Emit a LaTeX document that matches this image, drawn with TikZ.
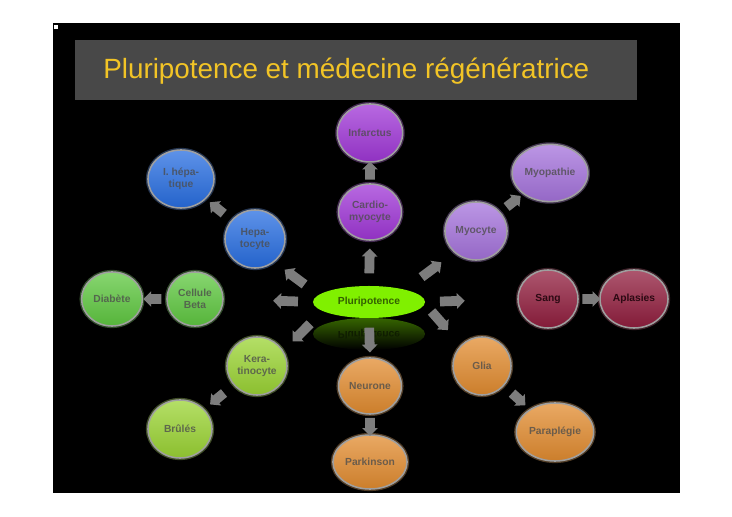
\documentclass[tikz,border=0pt]{standalone}
\usepackage{fontspec}
\setmainfont{Liberation Sans}
\usepackage{tikz}
\usetikzlibrary{shapes.geometric,shapes.arrows,positioning}
\definecolor{titlegray}{RGB}{72,72,72}
\definecolor{titleyellow}{RGB}{242,196,38}
\definecolor{hepblue}{RGB}{40,110,225}
\definecolor{cardpurple}{RGB}{160,55,215}
\definecolor{myolav}{RGB}{165,115,220}
\definecolor{sangred}{RGB}{145,30,62}
\definecolor{diabgreen}{RGB}{95,200,65}
\definecolor{keragreen}{RGB}{155,212,52}
\definecolor{neurorange}{RGB}{226,140,48}
\definecolor{plurigreen}{RGB}{128,240,0}
\definecolor{arrgray}{RGB}{125,125,125}

\begin{document}
\begin{tikzpicture}[
  x=0.025cm, y=-0.025cm,
  font=\fontsize{7.3}{8.4}\selectfont\bfseries,
  every node/.append style={align=center},
  disc/.style={ellipse, minimum width=1.5cm, minimum height=1.45cm, inner sep=1pt,
    draw=gray!75, line width=1.1pt,
    top color=#1!75!white, middle color=#1, bottom color=#1!90!black,
    text=#1!25!gray!70!black,
    preaction={draw=#1!70!white, line width=3pt, opacity=0.35}},
  blk/.style={single arrow, fill=arrgray, draw=none, inner xsep=0pt, inner ysep=0.115cm,
    minimum height=0.62cm, single arrow head extend=0.075cm,
    sloped, allow upside down},
  blks/.style={blk, minimum height=0.45cm}
]
\useasboundingbox (0,0) rectangle (732,517);
\fill[white] (0,0) rectangle (732,517);
\fill[black] (53,23) rectangle (680,493);
\fill[white] (54,25) rectangle (58,29);
\node[fill=titlegray, minimum width=14.05cm, minimum height=1.5cm, inner sep=0pt] (title) at (356,70) {};
\node[text=titleyellow, font=\fontsize{19.8}{24}\selectfont, anchor=west, inner sep=0pt] (titletext) at (103,71) {Pluripotence et médecine régénératrice};

% centre and reflection
\node[ellipse, minimum width=2.8cm, minimum height=0.8cm, outer sep=0pt,
  top color=plurigreen!42!black, bottom color=black, draw=none] (refl) at (369,334) {};
\node[yscale=-1, transform shape, text=plurigreen!12!black] (refltext) at (369,334) {Pluripotence};
\node[ellipse, minimum width=2.8cm, minimum height=0.8cm, outer sep=0pt,
  fill=plurigreen, text=plurigreen!40!black] (pluri) at (369,302) {Pluripotence};

% cells
\node[disc=cardpurple] (inf)  at (370,133) {Infarctus};
\node[disc=cardpurple, minimum height=1.4cm] (card) at (370,212) {Cardio-\\myocyte};
\node[disc=hepblue, minimum width=1.65cm] (hep) at (181,179) {I. hépa-\\tique};
\node[disc=hepblue] (hepa) at (255,239) {Hepa-\\tocyte};
\node[disc=myolav] (myo)  at (476,231) {Myocyte};
\node[disc=myolav, minimum width=1.6cm, minimum height=1.43cm] (myop) at (550,173) {Myopathie};
\node[disc=sangred, text=sangred!30!black] (sang) at (548,299) {Sang};
\node[disc=sangred, text=sangred!30!black, minimum width=1.7cm] (apl) at (634,299) {Aplasies};
\node[disc=diabgreen, minimum width=1.52cm, minimum height=1.35cm] (diab) at (112,299) {Diabète};
\node[disc=diabgreen, minimum width=1.4cm, minimum height=1.35cm] (cell) at (195,299) {Cellule\\Beta};
\node[disc=keragreen] (kera) at (257,366) {Kera-\\tinocyte};
\node[disc=keragreen, minimum width=1.6cm] (brul) at (180,429) {Brûlés};
\node[disc=neurorange, minimum height=1.4cm] (neur) at (370,386) {Neurone};
\node[disc=neurorange, minimum height=1.35cm] (park) at (370,462) {Parkinson};
\node[disc=neurorange, minimum width=1.45cm] (glia) at (482,366) {Glia};
\node[disc=neurorange, minimum width=1.6cm] (para) at (555,432) {Paraplégie};

% arrows from the centre
\path (pluri.90) -- node[blk]{} (card.-90);
\path (pluri.172) -- node[blk]{} (hepa.-50);
\path (pluri.180) -- node[blk, pos=0.28]{} (cell.0);
\path (pluri.191) -- node[blk]{} (kera.30);
\path (pluri.-90) -- node[blk]{} (neur.90);
\path (pluri.11.5) -- node[blk]{} (glia.135);
\path (pluri.0) -- node[blk, pos=0.27]{} (sang.180);
\path (pluri.19.3) -- node[blk]{} (myo.-135);

% arrows to the diseases
\path (card) -- node[blks]{} (inf);
\path (hepa) -- node[blks]{} (hep);
\path (cell) -- node[blks]{} (diab);
\path (kera) -- node[blks]{} (brul);
\path (neur) -- node[blks]{} (park);
\path (glia) -- node[blks]{} (para);
\path (myo) -- node[blks]{} (myop);
\path (sang) -- node[blks]{} (apl);
\end{tikzpicture}
\end{document}
